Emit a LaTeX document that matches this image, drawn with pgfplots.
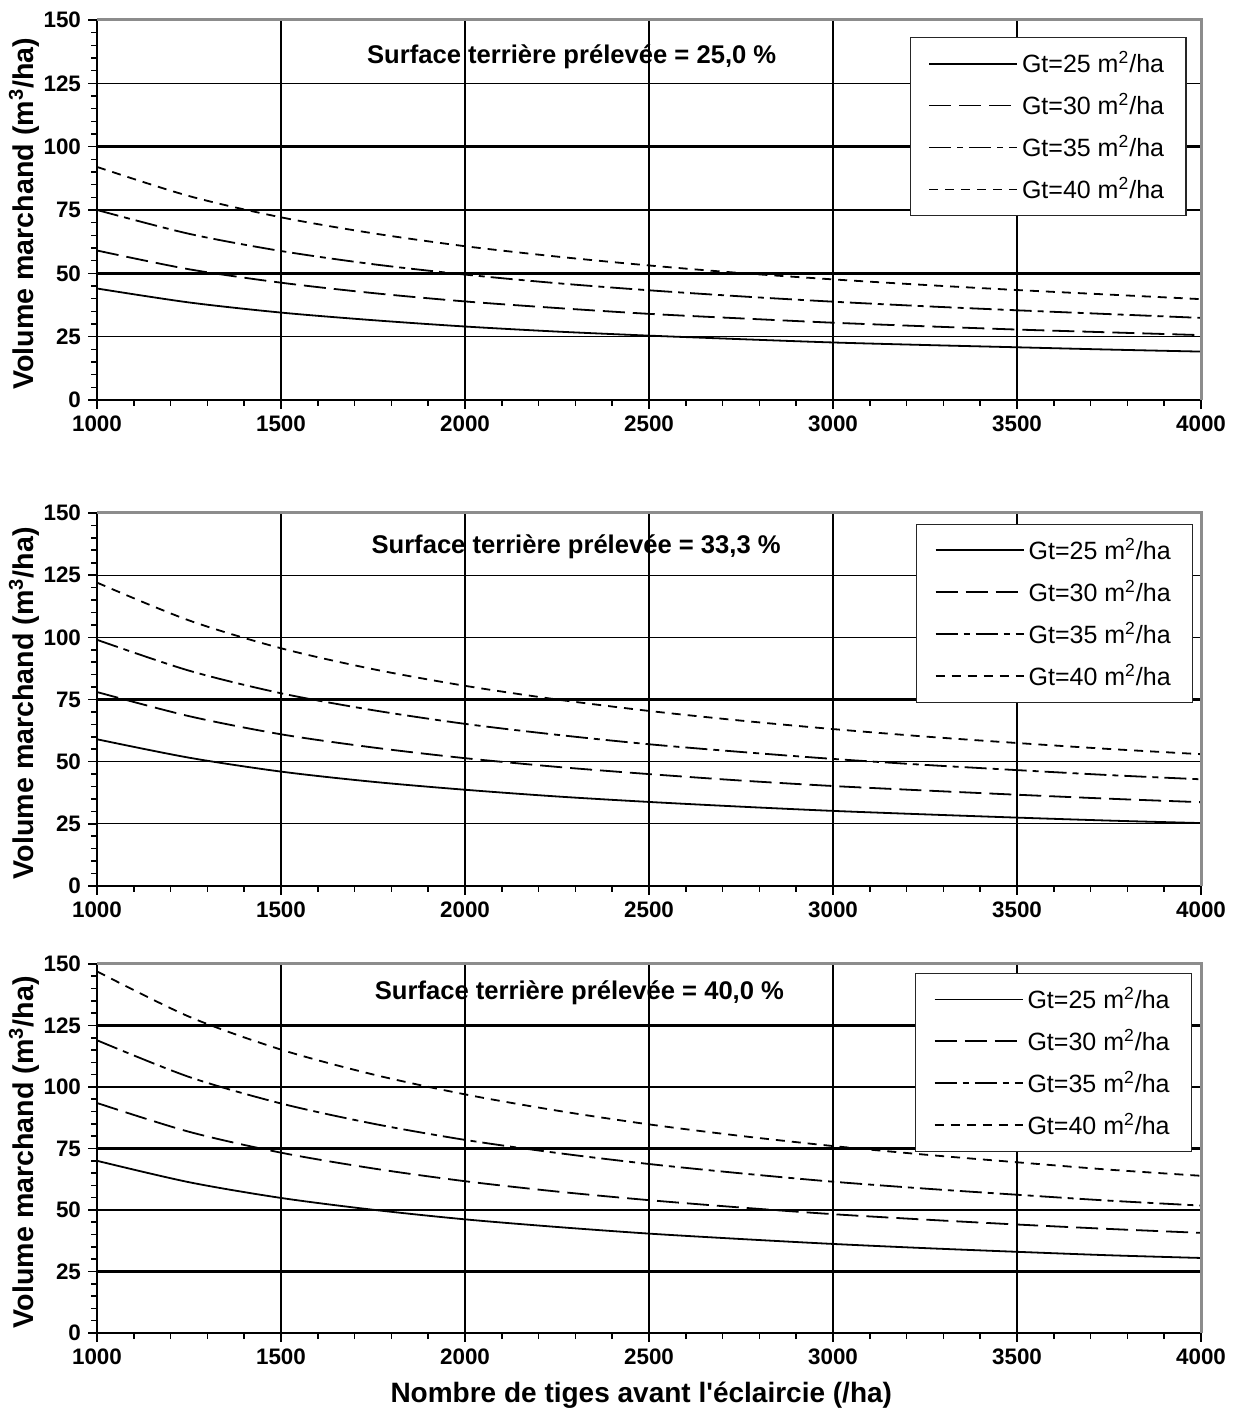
\documentclass[border=0pt]{standalone}
\usepackage{fontspec}
\setmainfont{Liberation Sans}
\usepackage{pgfplots}
\usepackage{pgfplotstable}
\pgfplotsset{compat=1.18}

% Volume marchand vs nombre de tiges, one table per panel
\pgfplotstableread{
N    g25  g30  g35   g40
1000 44.0 59.0 75.0  92.0
1250 38.5 51.6 65.6  80.5
1500 34.5 46.3 58.8  72.1
1750 31.5 42.2 53.6  65.8
2000 29.0 38.9 49.5  60.7
2250 27.0 36.3 46.1  56.6
2500 25.4 34.0 43.3  53.1
2750 24.0 32.2 40.9  50.1
3000 22.7 30.5 38.8  47.6
3250 21.7 29.1 37.0  45.4
3500 20.8 27.8 35.4  43.4
3750 19.9 26.7 33.9  41.6
4000 19.1 25.6 32.4  39.8
}\tabA
\pgfplotstableread{
N    g25  g30  g35   g40
1000 59.0 78.0 99.0  122.0
1250 51.6 68.3 86.6  106.8
1500 46.0 61.0 77.5  95.6
1750 41.9 55.7 70.7  87.2
2000 38.7 51.4 65.2  80.5
2250 36.0 47.9 60.8  75.0
2500 33.8 45.0 57.0  70.4
2750 31.9 42.4 53.9  66.5
3000 30.2 40.2 51.1  63.1
3250 28.8 38.4 48.7  60.1
3500 27.5 36.7 46.6  57.5
3750 26.3 35.1 44.6  55.1
4000 25.3 33.7 42.9  53.0
}\tabB
\pgfplotstableread{
N    g25  g30  g35   g40
1000 70.0 93.5 119.0 147.0
1250 61.3 81.8 104.1 128.6
1500 54.9 73.3 93.3  115.2
1750 50.1 66.9 85.1  105.1
2000 46.2 61.7 78.5  97.0
2250 43.1 57.5 73.2  90.4
2500 40.4 54.0 68.7  84.8
2750 38.2 51.0 64.9  80.1
3000 36.2 48.3 61.5  76.0
3250 34.5 46.1 58.7  72.5
3500 33.0 44.1 56.2  69.4
3750 31.6 42.3 53.8  66.4
4000 30.5 40.7 51.8  63.9
}\tabC

\pgfplotsset{
  panel/.style={
    scale only axis, width=552pt, anchor=south west,
    xmin=1000, xmax=4000, ymin=0, ymax=150,
    xtick={1000,1500,...,4000}, ytick={0,25,...,150},
    minor x tick num=4, minor y tick num=4,
    axis lines*=left, axis line style={black, line width=1pt},
    tick align=outside, major tick length=4.5pt, minor tick length=3pt,
    tick style={black, line width=0.8pt},
    grid=major, major grid style={black, line width=0.6pt},
    scaled ticks=false,
    /pgf/number format/1000 sep={},
    /pgf/number format/assume math mode=true,
    tick label style={font=\bfseries\fontsize{11.2}{13}\selectfont},
    ylabel={Volume marchand (m\textsuperscript{3}/ha)},
    ylabel style={at={(axis description cs:-0.066,0.49)}, anchor=center,
      font=\bfseries\fontsize{14.3}{16}\selectfont},
    legend cell align=left,
    legend image code/.code={\draw[##1, line width=0.9pt] (0pt,0pt) -- (44pt,0pt);},
    legend style={draw=black!85, line width=0.6pt, fill=white,
      font=\fontsize{12.5}{14}\selectfont, row sep=5pt,
      inner xsep=9pt, inner ysep=5pt, anchor=north east},
    after end axis/.code={\draw[black!45, line width=1.5pt]
      (rel axis cs:0,1) -- (rel axis cs:1,1) -- (rel axis cs:1,0);},
  },
  c25/.style={black, line width=0.9pt, smooth},
  c30/.style={black, line width=0.9pt, smooth, dash pattern=on 11pt off 4pt},
  c35/.style={black, line width=0.9pt, smooth, dash pattern=on 11pt off 3pt on 3pt off 3pt},
  c40/.style={black, line width=0.9pt, smooth, dash pattern=on 4.5pt off 3.5pt},
}
\newcommand\gv[1]{\draw[line width=1.2pt] (axis cs:#1,0) -- (axis cs:#1,150);}
\newcommand\gh[1]{\draw[line width=1.2pt] (axis cs:1000,#1) -- (axis cs:4000,#1);}
\newcommand\ttl[2]{\node[font=\bfseries\fontsize{12.8}{15}\selectfont] at (rel axis cs:#1) {#2};}

\begin{document}
\begin{tikzpicture}
\path[use as bounding box] (0,0) rectangle (619.5pt,708pt);

\begin{axis}[panel, height=190pt, at={(48.5pt,508pt)},
  legend style={at={(0.987,0.955)}}]
\gv{1500}\gv{2000}\gv{3000}\gv{3500}\gh{50}\gh{75}\gh{100}
\addplot[c25] table[x=N, y=g25] {\tabA};
\addlegendentry{Gt=25 m\textsuperscript{2}/ha}
\addplot[c30] table[x=N, y=g30] {\tabA};
\addlegendentry{Gt=30 m\textsuperscript{2}/ha}
\addplot[c35] table[x=N, y=g35] {\tabA};
\addlegendentry{Gt=35 m\textsuperscript{2}/ha}
\addplot[c40] table[x=N, y=g40] {\tabA};
\addlegendentry{Gt=40 m\textsuperscript{2}/ha}
\ttl{0.430,0.903}{Surface terrière prélevée = 25,0~\%}
\end{axis}

\begin{axis}[panel, height=186.5pt, at={(48.5pt,265pt)},
  legend style={at={(0.993,0.971)}}]
\gv{1500}\gv{2000}\gv{3000}\gh{75}
\addplot[c25] table[x=N, y=g25] {\tabB};
\addlegendentry{Gt=25 m\textsuperscript{2}/ha}
\addplot[c30] table[x=N, y=g30] {\tabB};
\addlegendentry{Gt=30 m\textsuperscript{2}/ha}
\addplot[c35] table[x=N, y=g35] {\tabB};
\addlegendentry{Gt=35 m\textsuperscript{2}/ha}
\addplot[c40] table[x=N, y=g40] {\tabB};
\addlegendentry{Gt=40 m\textsuperscript{2}/ha}
\ttl{0.434,0.909}{Surface terrière prélevée = 33,3~\%}
\end{axis}

\begin{axis}[panel, height=184.5pt, at={(48.5pt,41.5pt)},
  legend style={at={(0.992,0.976)}},
  xlabel={Nombre de tiges avant l\textquotesingle éclaircie (/ha)},
  xlabel style={at={(axis description cs:0.493,0)}, yshift=-31pt, anchor=center,
    font=\bfseries\fontsize{14}{16}\selectfont}]
\gv{1500}\gv{2000}\gv{3000}\gh{25}\gh{75}\gh{125}
\addplot[c25] table[x=N, y=g25] {\tabC};
\addlegendentry{Gt=25 m\textsuperscript{2}/ha}
\addplot[c30] table[x=N, y=g30] {\tabC};
\addlegendentry{Gt=30 m\textsuperscript{2}/ha}
\addplot[c35] table[x=N, y=g35] {\tabC};
\addlegendentry{Gt=35 m\textsuperscript{2}/ha}
\addplot[c40] table[x=N, y=g40] {\tabC};
\addlegendentry{Gt=40 m\textsuperscript{2}/ha}
\ttl{0.437,0.921}{Surface terrière prélevée = 40,0~\%}
\end{axis}
\end{tikzpicture}
\end{document}
